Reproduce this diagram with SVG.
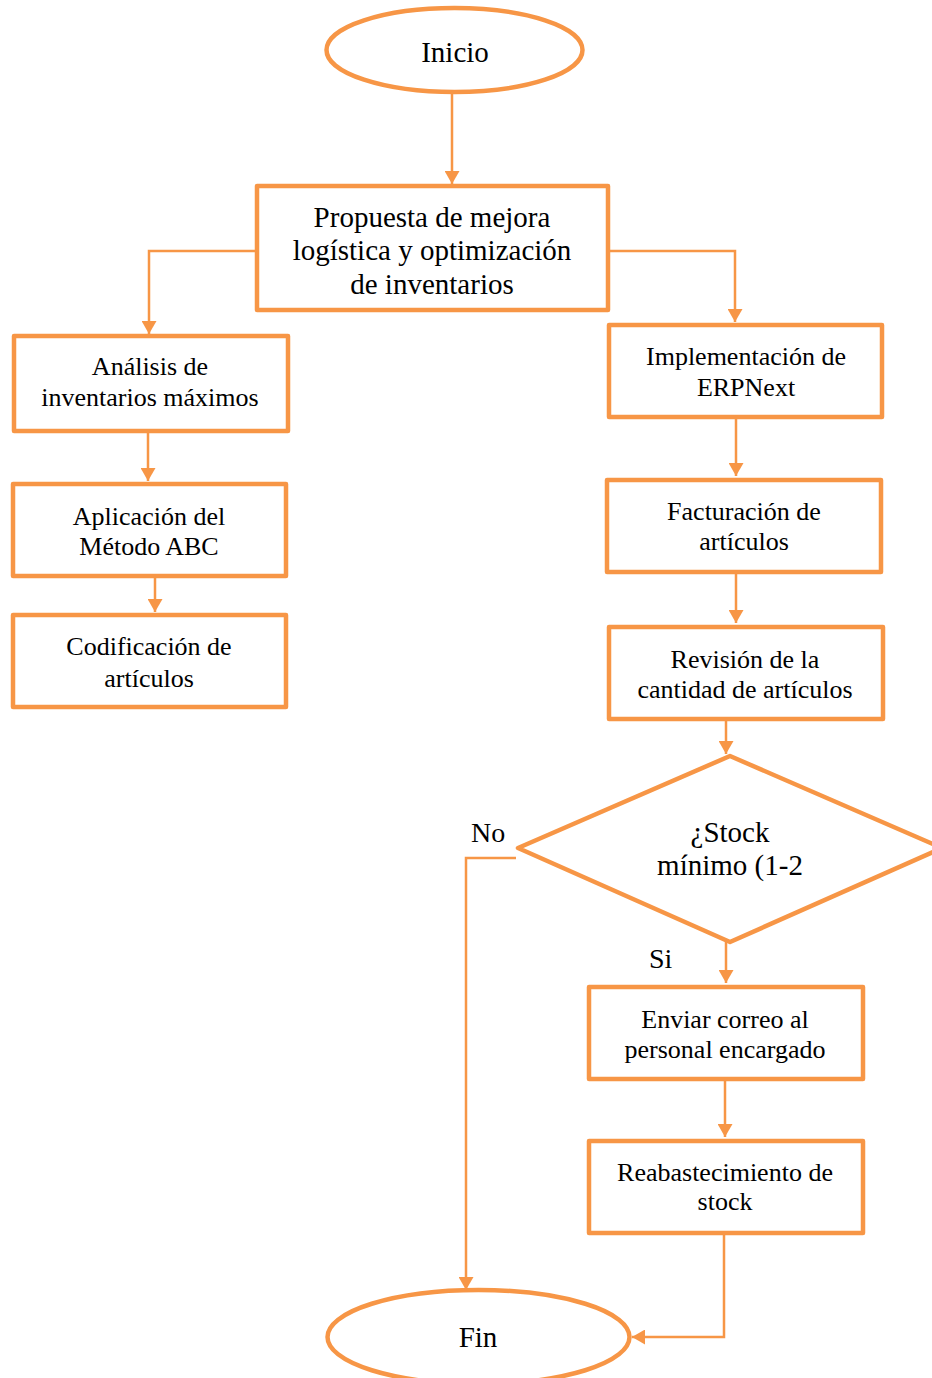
<svg xmlns="http://www.w3.org/2000/svg" width="932" height="1378" viewBox="0 0 932 1378">
  <style>
    .shape { fill: #FFFFFF; stroke: #F79646; stroke-width: 4.5; stroke-linejoin: round; }
    .link { fill: none; stroke: #F79646; stroke-width: 2.5; }
    text { font-family: "Liberation Serif", "Times New Roman", serif; fill: #000000; text-anchor: middle; }
    .t26 { font-size: 26px; }
    .t29 { font-size: 29px; }
    .lbl { font-size: 28px; text-anchor: start; }
  </style>
  <defs>
    <marker id="arrow" markerUnits="userSpaceOnUse" markerWidth="14" markerHeight="15" refX="13" refY="7.5" orient="auto">
      <path d="M0,0 L13,7.5 L0,15 z" fill="#F79646"/>
    </marker>
  </defs>

  <rect width="932" height="1378" fill="#FFFFFF"/>

  <!-- connectors -->
  <g id="connectors">
    <path class="link" d="M452,94 V184" marker-end="url(#arrow)"/>
    <path class="link" d="M257,251 H149 V334" marker-end="url(#arrow)"/>
    <path class="link" d="M608,251 H735 V322" marker-end="url(#arrow)"/>
    <path class="link" d="M148,432 V481" marker-end="url(#arrow)"/>
    <path class="link" d="M155,577 V612" marker-end="url(#arrow)"/>
    <path class="link" d="M736,418 V476" marker-end="url(#arrow)"/>
    <path class="link" d="M736,573 V623" marker-end="url(#arrow)"/>
    <path class="link" d="M726,720 V754" marker-end="url(#arrow)"/>
    <path class="link" d="M726,942 V983" marker-end="url(#arrow)"/>
    <path class="link" d="M725,1080 V1137" marker-end="url(#arrow)"/>
    <path class="link" d="M516,858 H466 V1290" marker-end="url(#arrow)"/>
    <path class="link" d="M724,1234 V1337 H632" marker-end="url(#arrow)"/>
  </g>

  <!-- start -->
  <g id="inicio">
    <ellipse class="shape" cx="454.5" cy="50" rx="128" ry="42"/>
    <text class="t29" x="455" y="62">Inicio</text>
  </g>

  <g id="propuesta">
    <rect class="shape" x="257" y="186" width="351" height="124"/>
    <text class="t29" x="432" y="227">Propuesta de mejora</text>
    <text class="t29" x="432" y="260">logística y optimización</text>
    <text class="t29" x="432" y="294">de inventarios</text>
  </g>

  <!-- left branch -->
  <g id="analisis">
    <rect class="shape" x="14" y="336" width="274" height="95"/>
    <text class="t26" x="150" y="375">Análisis de</text>
    <text class="t26" x="150" y="406">inventarios máximos</text>
  </g>

  <g id="aplicacion">
    <rect class="shape" x="13" y="484" width="273" height="92"/>
    <text class="t26" x="149" y="525">Aplicación del</text>
    <text class="t26" x="149" y="555">Método ABC</text>
  </g>

  <g id="codificacion">
    <rect class="shape" x="13" y="615" width="273" height="92"/>
    <text class="t26" x="149" y="655">Codificación de</text>
    <text class="t26" x="149" y="687">artículos</text>
  </g>

  <!-- right branch -->
  <g id="implementacion">
    <rect class="shape" x="609" y="325" width="273" height="92"/>
    <text class="t26" x="746" y="365">Implementación de</text>
    <text class="t26" x="746" y="396">ERPNext</text>
  </g>

  <g id="facturacion">
    <rect class="shape" x="607" y="480" width="274" height="92"/>
    <text class="t26" x="744" y="520">Facturación de</text>
    <text class="t26" x="744" y="550">artículos</text>
  </g>

  <g id="revision">
    <rect class="shape" x="609" y="627" width="274" height="92"/>
    <text class="t26" x="745" y="668">Revisión de la</text>
    <text class="t26" x="745" y="698">cantidad de artículos</text>
  </g>

  <g id="decision">
    <polygon class="shape" points="730,756 942,848 730,942 518,848"/>
    <text class="t29" x="730" y="842">¿Stock</text>
    <text class="t29" x="730" y="875">mínimo (1-2</text>
  </g>

  <g id="labels">
    <text class="lbl" x="471" y="842">No</text>
    <text class="lbl" x="649" y="968">Si</text>
  </g>

  <g id="enviar">
    <rect class="shape" x="589" y="987" width="274" height="92"/>
    <text class="t26" x="725" y="1028">Enviar correo al</text>
    <text class="t26" x="725" y="1058">personal encargado</text>
  </g>

  <g id="reabastecimiento">
    <rect class="shape" x="589" y="1141" width="274" height="92"/>
    <text class="t26" x="725" y="1181">Reabastecimiento de</text>
    <text class="t26" x="725" y="1210">stock</text>
  </g>

  <!-- end -->
  <g id="fin">
    <ellipse class="shape" cx="478.5" cy="1337" rx="151" ry="47"/>
    <text class="t29" x="478" y="1347">Fin</text>
  </g>
</svg>
